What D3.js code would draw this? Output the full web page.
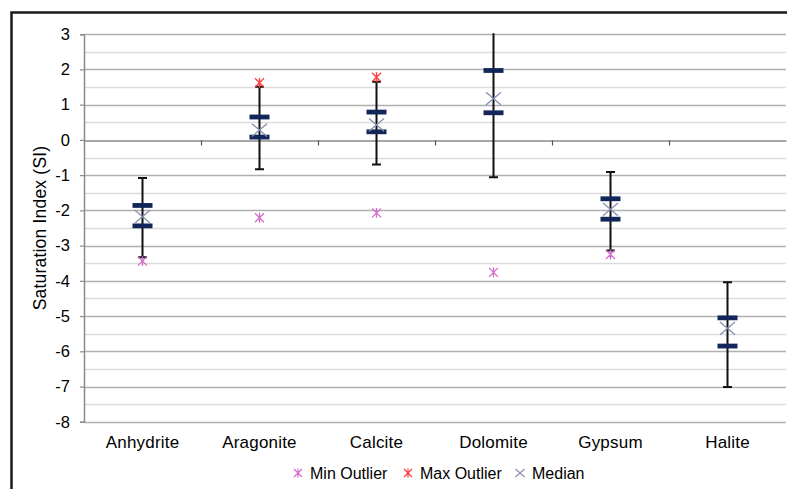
<!DOCTYPE html>
<html>
<head>
<meta charset="utf-8">
<script src="https://cdn.jsdelivr.net/npm/d3@7"></script>
<style>
  html, body { margin: 0; padding: 0; background: #fff; }
  svg text { font-family: "Liberation Sans", Arial, sans-serif; fill: #000; }
</style>
</head>
<body>
<svg id="chart" width="787" height="489"></svg>
<script>
const categories = ["Anhydrite", "Aragonite", "Calcite", "Dolomite", "Gypsum", "Halite"];
const whiskerHigh = [-1.08, 1.51, 1.65, 3.3, -0.91, -4.04];
const q3 = [-1.86, 0.65, 0.79, 1.97, -1.67, -5.05];
const median = [-2.18, 0.28, 0.43, 1.17, -1.97, -5.35];
const q1 = [-2.44, 0.08, 0.23, 0.77, -2.25, -5.85];
const whiskerLow = [-3.33, -0.83, -0.70, -1.06, -3.14, -7.01];
const minOutlier = [-3.44, -2.21, -2.07, -3.76, -3.25, null];
const maxOutlier = [null, 1.62, 1.78, null, null, null];
const yTicks = [3, 2, 1, 0, -1, -2, -3, -4, -5, -6, -7, -8];
const yMinorTicks = [2.5, 1.5, 0.5, -0.5, -1.5, -2.5, -3.5, -4.5, -5.5, -6.5, -7.5];
const yTitle = "Saturation Index (SI)";
const legendItems = ["Min Outlier", "Max Outlier", "Median"];

(function () {
const svg = d3.select("#chart");
const pLeft = 84, pRight = 786, pTop = 34.2, pBottom = 421.8;

const x = d3.scaleBand().domain(categories).range([pLeft, pRight]);
const y = d3.scaleLinear().domain([-8, 3]).range([pBottom, pTop]);

// frame
svg.append("rect").attr("x", 11.5).attr("y", 12.5).attr("width", 820).attr("height", 520)
  .attr("fill", "none").attr("stroke", "#1a1a1a").attr("stroke-width", 2.5);

// minor gridlines
svg.append("g").selectAll("line").data(yMinorTicks).join("line")
  .attr("x1", pLeft).attr("x2", pRight)
  .attr("y1", d => Math.round(y(d)) + 0.5).attr("y2", d => Math.round(y(d)) + 0.5)
  .attr("stroke", "#dcdcdc").attr("stroke-width", 1.5);

// major gridlines
svg.append("g").selectAll("line").data(yTicks.filter(d => d !== 0)).join("line")
  .attr("x1", pLeft).attr("x2", pRight)
  .attr("y1", d => Math.round(y(d)) + 0.5).attr("y2", d => Math.round(y(d)) + 0.5)
  .attr("stroke", "#b0b0b0").attr("stroke-width", 1.5);

// y axis
const yAxis = d3.axisLeft(y).tickValues(yTicks).tickSize(4).tickPadding(10);
const yg = svg.append("g").attr("transform", `translate(${pLeft},0)`).call(yAxis);
yg.select(".domain").attr("stroke", "#8a8a8a").attr("stroke-width", 1.5);
yg.selectAll(".tick line").attr("stroke", "#8a8a8a").attr("stroke-width", 1.2);
yg.selectAll(".tick text").attr("font-size", 16.5).attr("font-family", "Liberation Sans, Arial, sans-serif")
  .attr("fill", "#000").text(d => d < 0 ? "-" + Math.abs(d) : String(d));

// x axis line at 0 with boundary ticks
const xAxis = d3.axisBottom(x).tickSize(0).tickFormat("");
const xg = svg.append("g").attr("transform", `translate(0,${Math.round(y(0)) + 0.5})`).call(xAxis);
xg.select(".domain").attr("stroke", "#8a8a8a").attr("stroke-width", 1.5);
const bounds = categories.slice(1).map(c => x(c));
xg.selectAll(".bt").data(bounds).join("line").attr("class", "bt")
  .attr("x1", d => Math.round(d) + 0.5).attr("x2", d => Math.round(d) + 0.5)
  .attr("y1", 0).attr("y2", 5).attr("stroke", "#555").attr("stroke-width", 1.2);

// category labels
svg.append("g").selectAll("text").data(categories).join("text")
  .attr("x", d => x(d) + x.bandwidth() / 2).attr("y", 447.5)
  .attr("text-anchor", "middle").attr("font-size", 17).attr("letter-spacing", "0.2px")
  .text(d => d);

// y title
svg.append("text").attr("transform", `translate(46,${(pTop + pBottom) / 2}) rotate(-90)`)
  .attr("text-anchor", "middle").attr("font-size", 17.5).attr("letter-spacing", "0.2px").text(yTitle);

// clip
svg.append("clipPath").attr("id", "plotclip").append("rect")
  .attr("x", pLeft).attr("y", pTop - 1).attr("width", pRight - pLeft).attr("height", pBottom - pTop + 2);
const plot = svg.append("g").attr("clip-path", "url(#plotclip)");

const cx = i => x(categories[i]) + x.bandwidth() / 2;
const idx = categories.map((d, i) => i);

// whiskers
plot.append("g").selectAll("line").data(idx).join("line")
  .attr("x1", i => cx(i)).attr("x2", i => cx(i))
  .attr("y1", i => y(whiskerHigh[i])).attr("y2", i => y(whiskerLow[i]))
  .attr("stroke", "#111").attr("stroke-width", 2);
const caps = [];
idx.forEach(i => { caps.push([i, whiskerHigh[i]]); caps.push([i, whiskerLow[i]]); });
plot.append("g").selectAll("line").data(caps).join("line")
  .attr("x1", d => cx(d[0]) - 4.5).attr("x2", d => cx(d[0]) + 4.5)
  .attr("y1", d => y(d[1])).attr("y2", d => y(d[1]))
  .attr("stroke", "#111").attr("stroke-width", 2);

// quartile bars
const qs = [];
idx.forEach(i => { qs.push([i, q3[i]]); qs.push([i, q1[i]]); });
plot.append("g").selectAll("rect").data(qs).join("rect")
  .attr("x", d => cx(d[0]) - 10).attr("width", 20)
  .attr("y", d => y(d[1]) - 2.4).attr("height", 4.8)
  .attr("fill", "#12265a");

// median X
plot.append("g").selectAll("path").data(idx).join("path")
  .attr("d", i => {
    const px = cx(i), py = y(median[i]), s = 7.5;
    return `M${px - s},${py - s * 0.85}L${px + s},${py + s * 0.85}M${px - s},${py + s * 0.85}L${px + s},${py - s * 0.85}`;
  })
  .attr("stroke", "#8890b2").attr("stroke-width", 1.3).attr("fill", "none");

function asterisk(px, py, s) {
  return `M${px - s},${py - s}L${px + s},${py + s}M${px - s},${py + s}L${px + s},${py - s}M${px},${py - s * 1.1}L${px},${py + s * 1.1}`;
}

// min outliers
plot.append("g").selectAll("path").data(idx.filter(i => minOutlier[i] !== null)).join("path")
  .attr("d", i => asterisk(cx(i), y(minOutlier[i]), 4.5))
  .attr("stroke", "#d46ccb").attr("stroke-width", 1.3).attr("fill", "none");

// max outliers
plot.append("g").selectAll("path").data(idx.filter(i => maxOutlier[i] !== null)).join("path")
  .attr("d", i => asterisk(cx(i), y(maxOutlier[i]), 4.5))
  .attr("stroke", "#ff3b3b").attr("stroke-width", 1.3).attr("fill", "none");

// legend
const legX = [298, 408, 520];
const legColors = ["#d46ccb", "#ff3b3b", "#8890b2"];
const lg = svg.append("g");
legendItems.forEach((t, i) => {
  const px = legX[i], py = 473;
  lg.append("path")
    .attr("d", i < 2 ? asterisk(px, py, 4) : `M${px - 4.5},${py - 4}L${px + 4.5},${py + 4}M${px - 4.5},${py + 4}L${px + 4.5},${py - 4}`)
    .attr("stroke", legColors[i]).attr("stroke-width", 1.2).attr("fill", "none");
  lg.append("text").attr("x", px + 12).attr("y", 478.5).attr("font-size", 16).text(t);
});
})();
</script>
</body>
</html>
